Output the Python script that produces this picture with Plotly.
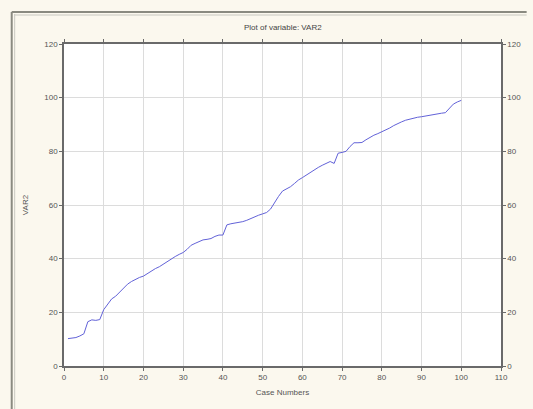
import plotly.graph_objects as go

case_numbers = list(range(1, 101))
var2 = [10.2, 10.3, 10.6, 11.2, 12.0, 16.5, 17.2, 17.0, 17.3, 21.0,
        23.0, 25.0, 26.0, 27.5, 29.0, 30.5, 31.5, 32.3, 33.0, 33.5,
        34.5, 35.5, 36.3, 37.0, 38.0, 39.0, 39.8, 40.8, 41.6, 42.3,
        43.5, 45.0, 45.7, 46.5, 47.0, 47.2, 47.5, 48.3, 48.8, 48.8,
        52.6, 53.0, 53.2, 53.5, 53.8, 54.3, 55.0, 55.5, 56.2, 56.7,
        57.2, 58.5, 61.0, 63.2, 65.2, 66.0, 66.8, 68.0, 69.3, 70.2,
        71.2, 72.3, 73.0, 74.0, 74.8, 75.6, 76.2, 75.5, 79.3, 79.6,
        80.0, 81.8, 83.2, 83.2, 83.3, 84.3, 85.3, 86.0, 86.6, 87.2,
        88.0, 88.7, 89.6, 90.4, 91.0, 91.6, 92.0, 92.4, 92.7, 92.9,
        93.2, 93.5, 93.8, 94.0, 94.2, 94.4, 96.0, 97.6, 98.4, 99.0]

x_ticks = [0, 10, 20, 30, 40, 50, 60, 70, 80, 90, 100, 110]
y_ticks = [0, 20, 40, 60, 80, 100, 120]

title_text = "Plot of variable: VAR2"
x_title = "Case Numbers"
y_title = "VAR2"

W, H = 533, 409
L, R, T, B = 64, 26, 44, 43
pw, ph = W - L - R, H - T - B

def px_x(p):
    return (p - L) / pw

def px_y(p):
    return (H - B - p) / ph

font = dict(family="Liberation Sans, Arial, sans-serif", size=8, color="#555555")

fig = go.Figure()
fig.add_trace(go.Scatter(x=case_numbers, y=var2, mode="lines",
                         line=dict(color="#6262d8", width=1), showlegend=False))
fig.add_trace(go.Scatter(x=[case_numbers[0]], y=[var2[0]], yaxis="y2", mode="lines",
                         line=dict(width=0), opacity=0, showlegend=False, hoverinfo="skip"))

axis_common = dict(showline=True, linecolor="#6a6a6a", linewidth=1.5,
                   ticks="outside", ticklen=3, tickcolor="#6a6a6a",
                   tickfont=font, zeroline=False)

fig.update_layout(
    width=W, height=H,
    margin=dict(l=L, r=R, t=T, b=B),
    paper_bgcolor="#fbf8ee",
    plot_bgcolor="#ffffff",
    showlegend=False,
    xaxis=dict(range=[0, 110], tickvals=x_ticks, showgrid=True, gridcolor="#dcdcdc",
               gridwidth=1, mirror="ticks", title=dict(text=x_title, font=font, standoff=8),
               **axis_common),
    yaxis=dict(range=[0, 120], tickvals=y_ticks, showgrid=True, gridcolor="#dcdcdc",
               gridwidth=1, mirror=True, title=dict(text=y_title, font=font, standoff=14),
               **axis_common),
    yaxis2=dict(range=[0, 120], tickvals=y_ticks, overlaying="y", side="right",
                showgrid=False, **axis_common),
    annotations=[dict(text=title_text, x=0.5, y=px_y(28), xref="paper", yref="paper",
                      showarrow=False, font=dict(family=font["family"], size=8, color="#444444"),
                      xanchor="center", yanchor="middle")],
    shapes=[
        dict(type="line", xref="paper", yref="paper", x0=px_x(11), x1=px_x(11),
             y0=px_y(12), y1=px_y(409), line=dict(color="#8a8a80", width=2)),
        dict(type="line", xref="paper", yref="paper", x0=px_x(14), x1=px_x(14),
             y0=px_y(14), y1=px_y(409), line=dict(color="#c8c8c0", width=1)),
        dict(type="line", xref="paper", yref="paper", x0=px_x(11), x1=px_x(533),
             y0=px_y(12), y1=px_y(12), line=dict(color="#8a8a80", width=2)),
        dict(type="line", xref="paper", yref="paper", x0=px_x(14), x1=px_x(533),
             y0=px_y(15), y1=px_y(15), line=dict(color="#c8c8c0", width=1)),
    ],
)

fig.write_html("out.html")
